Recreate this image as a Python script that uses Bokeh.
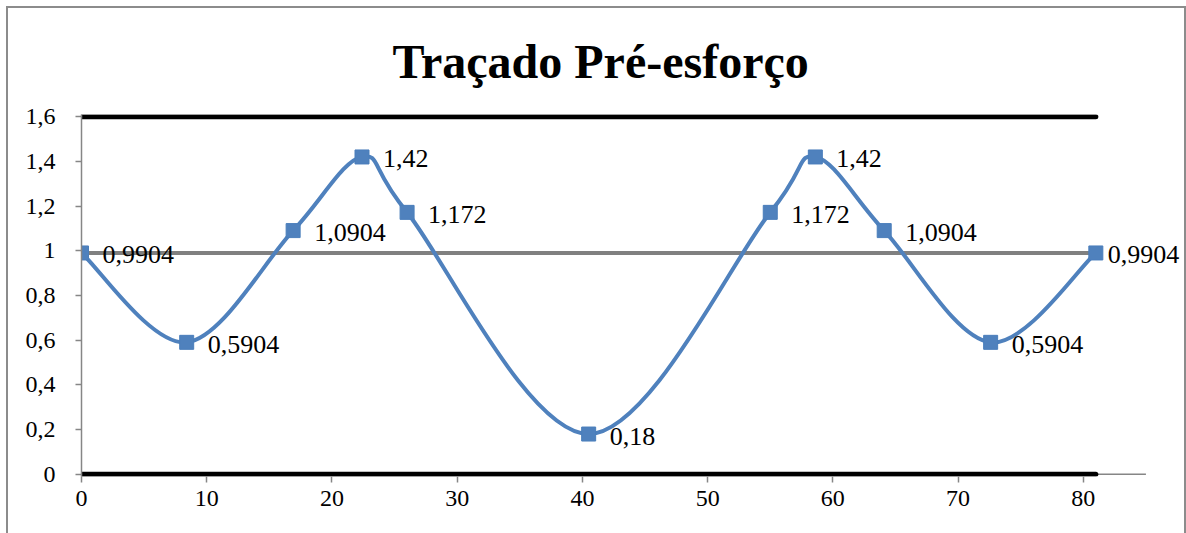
import numpy as np
from bokeh.plotting import figure
from bokeh.models import Range1d, FixedTicker, CustomJSTickFormatter, ColumnDataSource, LabelSet
from bokeh.embed import file_html
from bokeh.resources import INLINE

# ---- data ----
x_pts = [0, 8.4, 16.9, 22.4, 26, 40.5, 55, 58.6, 64.1, 72.6, 81]
y_pts = [0.9904, 0.5904, 1.0904, 1.42, 1.172, 0.18, 1.172, 1.42, 1.0904, 0.5904, 0.9904]
labels = ["0,9904", "0,5904", "1,0904", "1,42", "1,172", "0,18",
          "1,172", "1,42", "1,0904", "0,5904", "0,9904"]
ref_x = [0, 81]
top_y = [1.6, 1.6]
bottom_y = [0, 0]
mid_y = [0.9904, 0.9904]
axis_x = [0, 85]
axis_y = [0, 0]
x_ticks = [0, 10, 20, 30, 40, 50, 60, 70, 80]
y_ticks = [0, 0.2, 0.4, 0.6, 0.8, 1.0, 1.2, 1.4, 1.6]

FONT = "Liberation Serif"
BLUE = "#4F81BD"
AXIS_GRAY = "#868686"

p = figure(width=1180, height=527, output_backend="svg", toolbar_location=None,
           x_range=Range1d(0, 88), y_range=Range1d(-0.01, 1.61),
           min_border_left=75, min_border_right=3, min_border_top=108, min_border_bottom=57)
p.margin = (6, 0, 0, 6)
p.styles = {"box-shadow": "inset 2px 2px 0 #8c8c8c, inset -2px 0 0 #8c8c8c"}
p.outline_line_color = None
p.xgrid.visible = False
p.ygrid.visible = False
p.background_fill_color = "white"
p.border_fill_alpha = 0

p.title.text = "Traçado Pré-esforço"
p.title.align = "left"
p.title.offset = 311
p.title.vertical_align = "top"
p.title.text_font = FONT
p.title.text_font_size = "48px"
p.title.text_font_style = "bold"
p.title.text_color = "black"
p.title.standoff = 50

for ax in (p.xaxis[0], p.yaxis[0]):
    ax.axis_line_color = AXIS_GRAY
    ax.axis_line_width = 1.5
    ax.major_tick_line_color = AXIS_GRAY
    ax.major_tick_line_width = 1.5
    ax.major_tick_in = 0
    ax.major_tick_out = 6
    ax.minor_tick_line_color = None
    ax.major_label_text_font = FONT
    ax.major_label_text_font_size = "24px"
    ax.major_label_text_color = "black"

p.xaxis.axis_line_color = None
p.xaxis.ticker = FixedTicker(ticks=x_ticks)
p.yaxis.ticker = FixedTicker(ticks=y_ticks)
p.xaxis.major_label_standoff = 8
p.yaxis.major_label_standoff = 20
p.yaxis.formatter = CustomJSTickFormatter(
    code="return String(Number(tick.toFixed(1))).replace('.', ',');")

# horizontal axis line (ends at 85 like the reference)
p.line(axis_x, axis_y, line_color=AXIS_GRAY, line_width=1.5)

# reference lines
p.line(ref_x, top_y, line_color="black", line_width=5, line_cap="round")
p.line(ref_x, bottom_y, line_color="black", line_width=5, line_cap="round")
p.line(ref_x, mid_y, line_color="#808080", line_width=4)

# smoothed curve (Catmull-Rom as cubic Bezier, Excel-like)
xa = np.array(x_pts, dtype=float)
ya = np.array(y_pts, dtype=float)
n = len(xa)
x0s, y0s, x1s, y1s, cx0s, cy0s, cx1s, cy1s = [], [], [], [], [], [], [], []
for i in range(n - 1):
    p0 = (xa[max(i - 1, 0)], ya[max(i - 1, 0)])
    p1 = (xa[i], ya[i])
    p2 = (xa[i + 1], ya[i + 1])
    p3 = (xa[min(i + 2, n - 1)], ya[min(i + 2, n - 1)])
    x0s.append(p1[0]); y0s.append(p1[1])
    x1s.append(p2[0]); y1s.append(p2[1])
    cx0s.append(p1[0] + (p2[0] - p0[0]) / 6); cy0s.append(p1[1] + (p2[1] - p0[1]) / 6)
    cx1s.append(p2[0] - (p3[0] - p1[0]) / 6); cy1s.append(p2[1] - (p3[1] - p1[1]) / 6)
p.bezier(x0=x0s, y0=y0s, x1=x1s, y1=y1s, cx0=cx0s, cy0=cy0s, cx1=cx1s, cy1=cy1s,
         line_color=BLUE, line_width=4)

p.scatter(x_pts, y_pts, marker="square", size=14, fill_color=BLUE, line_color="#4A7EBB")

src_main = ColumnDataSource(dict(x=x_pts[:-1], y=y_pts[:-1], t=labels[:-1]))
src_last = ColumnDataSource(dict(x=x_pts[-1:], y=y_pts[-1:], t=labels[-1:]))
for src, xo in ((src_main, 21), (src_last, 12)):
    p.add_layout(LabelSet(x="x", y="y", text="t", source=src, x_offset=xo, y_offset=-2,
                          text_font="Liberation Serif", text_font_size="26px",
                          text_color="black", text_align="left", text_baseline="middle"))

open("out.html", "w").write(file_html(p, INLINE))
